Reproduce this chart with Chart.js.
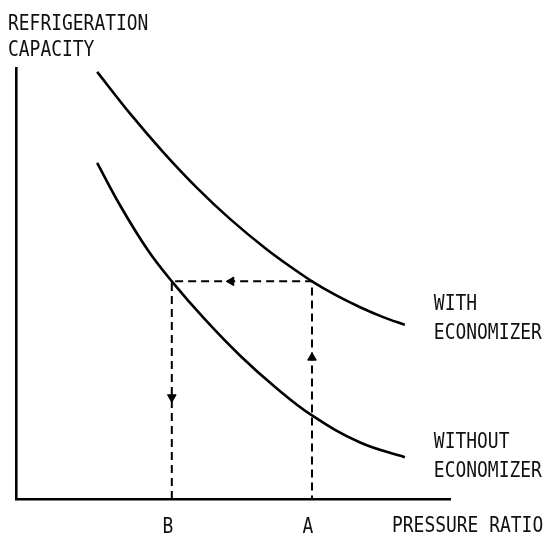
<!DOCTYPE html>
<html>
<head>
<meta charset="utf-8">
<script src="https://cdn.jsdelivr.net/npm/chart.js@4"></script>
<style>
    html, body { margin: 0; padding: 0; background: #fff; }
    #chartBox { width: 559px; height: 537px; }
</style>
</head>
<body>
<div id="chartBox"><canvas id="capacityChart" width="559" height="537"></canvas></div>
<script>
    //data doc tu hinh (don vi tuy y, 0 - 100)
    var gWithX = [18.7, 26.3, 33.9, 41.7, 49.3, 57.8, 63.1, 68.2, 73.7, 79.3, 84.6, 89.6];
    var gWithY = [99.1, 89.4, 80.5, 72.2, 65.0, 57.9, 54.0, 50.5, 47.3, 44.5, 42.2, 40.4];
    var gWithoutX = [18.7, 24.0, 30.4, 35.9, 43.6, 51.6, 59.7, 68.2, 79.3, 89.6];
    var gWithoutY = [78.0, 68.1, 57.7, 50.5, 41.6, 33.3, 26.0, 19.4, 13.1, 9.7];

    //duong gach: B -> A
    var gRatioLabels = ["B", "A"];
    var gRatioValues = [35.9, 68.2];
    var gCapacityLevel = 50.5;

    //mui ten tren duong gach
    var gArrowX = [49.6, 35.9, 68.2];
    var gArrowY = [50.5, 23.6, 32.8];
    var gArrowDir = ["left", "down", "up"];

    var gCurveNames = [["WITH", "ECONOMIZER"], ["WITHOUT", "ECONOMIZER"]];
    var gAxisTitleY = ["REFRIGERATION", "CAPACITY"];
    var gAxisTitleX = "PRESSURE RATIO";

    function toPoints(pX, pY) {
        var vPoints = [];
        for (var i = 0; i < pX.length; i++) {
            vPoints.push({ x: pX[i], y: pY[i] });
        }
        return vPoints;
    }

    //ve chu kieu may chu (mono, hep lai)
    var CHAR_W = 10.8;
    function drawText(ctx, pText, pX, pY, pAlign) {
        ctx.textAlign = pAlign || "left";
        ctx.fillText(pText, pX, pY, pText.length * CHAR_W);
    }

    var labelPlugin = {
        id: "labelPlugin",
        afterDraw: function (chart) {
            var ctx = chart.ctx;
            var xScale = chart.scales.x;
            var area = chart.chartArea;
            ctx.save();
            ctx.fillStyle = "#111";
            ctx.font = "21px 'DejaVu Sans Mono'";
            ctx.textBaseline = "alphabetic";

            //ten truc y
            drawText(ctx, gAxisTitleY[0], 8, 30);
            drawText(ctx, gAxisTitleY[1], 8, 56);

            //ten truc x
            drawText(ctx, gAxisTitleX, 392, area.bottom + 33);

            //B, A
            for (var i = 0; i < gRatioLabels.length; i++) {
                drawText(ctx, gRatioLabels[i], xScale.getPixelForValue(gRatioValues[i]) - 4, area.bottom + 34, "center");
            }

            //ten duong cong, ben phai diem cuoi
            var vLabelX = xScale.getPixelForValue(gWithX[gWithX.length - 1]) + 29;
            var vBaselines = [[310, 339], [448, 477]];
            for (var j = 0; j < gCurveNames.length; j++) {
                drawText(ctx, gCurveNames[j][0], vLabelX, vBaselines[j][0]);
                drawText(ctx, gCurveNames[j][1], vLabelX, vBaselines[j][1]);
            }
            ctx.restore();
        }
    };

    var vArrowRotation = { up: 0, down: 180, left: 270, right: 90 };

    new Chart(document.getElementById("capacityChart").getContext("2d"), {
        type: "scatter",
        data: {
            datasets: [
                {
                    label: "With economizer",
                    data: toPoints(gWithX, gWithY),
                    showLine: true,
                    borderColor: "#000",
                    borderWidth: 2.6,
                    pointRadius: 0,
                    cubicInterpolationMode: "monotone"
                },
                {
                    label: "Without economizer",
                    data: toPoints(gWithoutX, gWithoutY),
                    showLine: true,
                    borderColor: "#000",
                    borderWidth: 2.6,
                    pointRadius: 0,
                    tension: 0.4
                },
                {
                    label: "Path",
                    data: [
                        { x: gRatioValues[0], y: 0 },
                        { x: gRatioValues[0], y: gCapacityLevel },
                        { x: gRatioValues[1], y: gCapacityLevel },
                        { x: gRatioValues[1], y: 0 }
                    ],
                    showLine: true,
                    borderColor: "#000",
                    borderWidth: 2,
                    borderDash: [8, 5],
                    pointRadius: 0
                },
                {
                    label: "Arrows",
                    data: toPoints(gArrowX, gArrowY),
                    pointStyle: "triangle",
                    pointRadius: 5,
                    pointRotation: function (context) {
                        return vArrowRotation[gArrowDir[context.dataIndex]];
                    },
                    backgroundColor: "#000",
                    borderColor: "#000",
                    borderWidth: 1
                }
            ]
        },
        options: {
            responsive: false,
            animation: false,
            layout: {
                padding: { left: 16, right: 109, top: 68, bottom: 38 }
            },
            plugins: {
                legend: { display: false },
                tooltip: { enabled: false }
            },
            scales: {
                x: {
                    type: "linear",
                    min: 0,
                    max: 100,
                    grid: { display: false, drawTicks: false, tickLength: 0 },
                    ticks: { display: false },
                    border: { display: true, color: "#000", width: 2.6 }
                },
                y: {
                    type: "linear",
                    min: 0,
                    max: 100,
                    grid: { display: false, drawTicks: false, tickLength: 0 },
                    ticks: { display: false },
                    border: { display: true, color: "#000", width: 2.6 }
                }
            }
        },
        plugins: [labelPlugin]
    });
</script>
</body>
</html>
